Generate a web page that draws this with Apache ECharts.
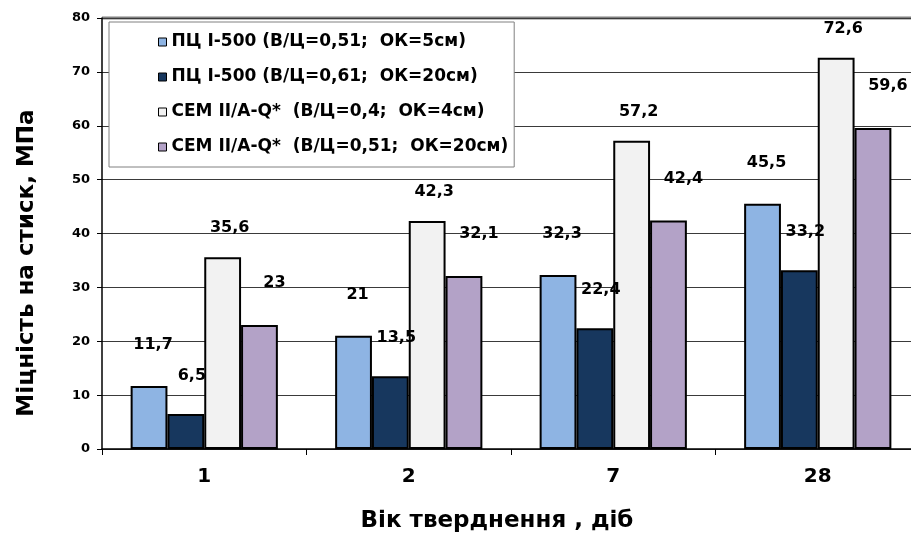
<!DOCTYPE html>
<html>
<head>
<meta charset="utf-8">
<script src="https://cdn.jsdelivr.net/npm/echarts@6/dist/echarts.min.js"></script>
<style>
  html, body { margin: 0; padding: 0; background: #fff; overflow: hidden; }
  /* the plot area runs a little past the right edge of the frame */
  #frame { width: 911px; height: 535px; overflow: hidden; position: relative; }
  #chart { width: 922px; height: 535px; position: absolute; left: 0; top: 0; }
</style>
</head>
<body>
<div id="frame"><div id="chart"></div></div>
<script>
// Curing age, days
const categories = ['1', '2', '7', '28'];

// Compressive strength, MPa
const pc500w051 = [11.7, 21, 32.3, 45.5];
const pc500w061 = [6.5, 13.5, 22.4, 33.2];
const cemW04 = [35.6, 42.3, 57.2, 72.6];
const cemW051 = [23, 32.1, 42.4, 59.6];

const seriesNames = [
  'ПЦ І-500 (В/Ц=0,51;  ОК=5см)',
  'ПЦ І-500 (В/Ц=0,61;  ОК=20см)',
  'CEM II/A-Q*  (В/Ц=0,4;  ОК=4см)',
  'CEM II/A-Q*  (В/Ц=0,51;  ОК=20см)'
];

const yMin = 0, yMax = 80, yStep = 10;
const xTitle = 'Вік тверднення , діб';
const yTitle = 'Міцність на стиск, МПа';

const FONT = '"DejaVu Sans", "Liberation Sans", Arial, sans-serif';
const fills = ['#8EB4E3', '#17375E', '#F2F2F2', '#B3A2C7'];
const labelShift = [[4, -33], [6, -30], [7, -21], [15, -34]];

const chart = echarts.init(document.getElementById('chart'), null, { renderer: 'canvas' });

const valueSets = [pc500w051, pc500w061, cemW04, cemW051];

const series = valueSets.map((vals, i) => ({
  name: seriesNames[i],
  type: 'bar',
  data: vals,
  barGap: '0%',
  barCategoryGap: '28%',
  itemStyle: { color: fills[i], borderColor: '#000', borderWidth: 2 },
  label: {
    show: true,
    position: 'top',
    distance: 0,
    offset: labelShift[i],
    formatter: p => String(p.value).replace('.', ','),
    fontFamily: FONT,
    fontWeight: 'bold',
    fontSize: 16,
    color: '#000'
  }
}));

chart.setOption({
  animation: false,
  backgroundColor: '#fff',
  grid: { left: 102, top: 18, width: 818, height: 431 },
  legend: {
    orient: 'vertical',
    left: 109, top: 22,
    padding: [10, 6, 10, 49],
    backgroundColor: '#fff',
    borderColor: '#808080',
    borderWidth: 1,
    itemWidth: 8, itemHeight: 8, itemGap: 15,
    icon: 'rect',
    itemStyle: { borderColor: '#000', borderWidth: 1 },
    textStyle: { fontFamily: FONT, fontWeight: 'bold', fontSize: 17, lineHeight: 20, color: '#000' },
    data: seriesNames
  },
  xAxis: {
    type: 'category',
    data: categories,
    axisLine: { lineStyle: { color: '#000', width: 1.5 } },
    axisTick: { show: true, length: 6, lineStyle: { color: '#000' } },
    axisLabel: { fontFamily: FONT, fontWeight: 'bold', fontSize: 20, color: '#000', margin: 18 },
    splitLine: { show: false }
  },
  yAxis: {
    type: 'value',
    min: yMin, max: yMax, interval: yStep,
    axisLine: { show: true, lineStyle: { color: '#000', width: 1.5 } },
    axisTick: { show: true, length: 5, lineStyle: { color: '#000' } },
    axisLabel: { fontFamily: FONT, fontWeight: 'bold', fontSize: 13, color: '#000', margin: 12 },
    splitLine: { show: true, lineStyle: { color: '#3a3a3a', width: 1 } }
  },
  graphic: [
    {
      // upper frame line of the plot area
      type: 'line', z: 0,
      shape: { x1: 102, y1: 18, x2: 922, y2: 18 },
      style: { stroke: '#808080', lineWidth: 3 }
    },
    {
      type: 'text', x: 497, y: 521,
      style: { text: xTitle, x: 0, y: 0, align: 'center', verticalAlign: 'middle',
        font: 'bold 23px ' + FONT, fill: '#000' }
    },
    {
      type: 'text', x: 27, y: 263, rotation: Math.PI / 2,
      style: { text: yTitle, x: 0, y: 0, align: 'center', verticalAlign: 'middle',
        font: 'bold 23px ' + FONT, fill: '#000' }
    }
  ],
  series: series
});
</script>
</body>
</html>
